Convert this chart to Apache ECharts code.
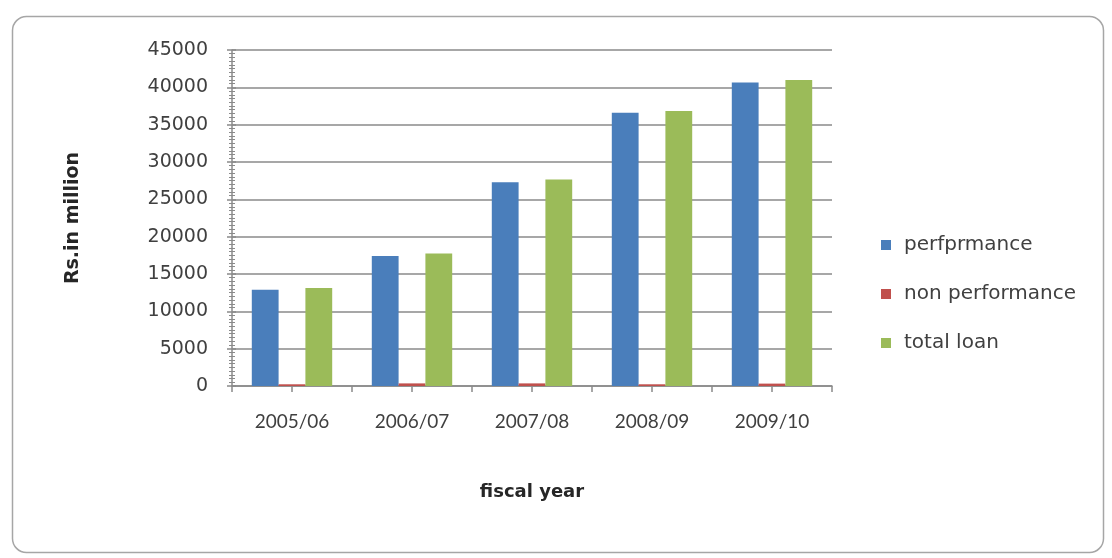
<!DOCTYPE html>
<html>
<head>
<meta charset="utf-8">
<title>Loan performance by fiscal year</title>
<script src="https://cdn.jsdelivr.net/npm/echarts@6/dist/echarts.min.js"></script>
<style>
  html, body { margin: 0; padding: 0; background: #ffffff; }
  #chart { width: 1112px; height: 558px; }
</style>
</head>
<body>
<div id="chart"></div>
<script>
// Fiscal years on the category axis
const fiscalYears = ['2005/06', '2006/07', '2007/08', '2008/09', '2009/10'];

// Loan amounts, Rs. in million
const performing = [12900, 17400, 27300, 36600, 40650];
const nonPerforming = [230, 350, 350, 230, 320];
const totalLoan = [13130, 17750, 27650, 36830, 40970];

// Value axis range
const yMin = 0;
const yMax = 45000;
const yStep = 5000;

const seriesNames = ['perfprmance', 'non performance', 'total loan'];
const seriesColors = ['#4a7ebb', '#c0504d', '#9bbb59'];

const axisGrey = '#8a8a8a';
const labelFont = 'Lato';
const wideFont = 'DejaVu Sans';

const chart = echarts.init(document.getElementById('chart'), null, { renderer: 'canvas' });

chart.setOption({
  backgroundColor: '#ffffff',
  animation: false,
  graphic: [{
    type: 'rect',
    shape: { x: 12.5, y: 16.5, width: 1091, height: 536, r: 14 },
    style: { fill: 'none', stroke: '#a6a6a6', lineWidth: 1.5 },
    silent: true,
    z: -10
  }],
  grid: { left: 232, top: 50, width: 600, height: 336, containLabel: false },
  legend: {
    orient: 'vertical',
    left: 881,
    top: 235,
    padding: 0,
    itemWidth: 10,
    itemHeight: 10,
    itemGap: 29,
    icon: 'rect',
    data: seriesNames,
    textStyle: { fontFamily: wideFont, fontSize: 20, lineHeight: 18, color: '#404040', padding: [0, 0, 0, 8] }
  },
  xAxis: [{
    type: 'category',
    data: fiscalYears,
    position: 'bottom',
    name: 'fiscal year',
    nameLocation: 'middle',
    nameGap: 97,
    nameTextStyle: { fontFamily: wideFont, fontWeight: 'bold', fontSize: 18, color: '#262626' },
    axisLine: { lineStyle: { color: axisGrey, width: 1.5 } },
    axisTick: { show: true, length: 6, lineStyle: { color: axisGrey, width: 1.5 } },
    axisLabel: { margin: 26, fontFamily: labelFont, fontSize: 19, color: '#404040' }
  }, {
    // ticks at each category centre
    type: 'category',
    data: fiscalYears,
    position: 'bottom',
    axisLine: { show: false },
    axisTick: { show: true, alignWithLabel: true, length: 6, lineStyle: { color: axisGrey, width: 1.5 } },
    axisLabel: { show: false }
  }],
  yAxis: [{
    type: 'value',
    min: yMin,
    max: yMax,
    interval: yStep,
    name: 'Rs.in million',
    nameLocation: 'middle',
    nameRotate: 90,
    nameGap: 149,
    nameTextStyle: { fontFamily: wideFont, fontWeight: 'bold', fontSize: 19, color: '#262626' },
    axisLine: { show: true, lineStyle: { color: axisGrey, width: 1.5 } },
    axisTick: { show: true, length: 5, lineStyle: { color: axisGrey, width: 1.5 } },
    minorTick: { show: true, splitNumber: 10, length: 3, lineStyle: { color: axisGrey, width: 1 } },
    splitLine: { show: true, lineStyle: { color: axisGrey, width: 1.5 } },
    axisLabel: {
      margin: 24,
      fontFamily: wideFont,
      fontSize: 19,
      color: '#404040',
      formatter: (v) => String(v)
    }
  }, {
    // inward half of the crossing tick marks
    type: 'value',
    min: yMin,
    max: yMax,
    interval: yStep,
    position: 'left',
    offset: 0,
    axisLine: { show: false },
    axisTick: { show: true, inside: true, length: 4, lineStyle: { color: axisGrey, width: 1.5 } },
    minorTick: { show: true, splitNumber: 10, length: 3, lineStyle: { color: axisGrey, width: 1 } },
    splitLine: { show: false },
    axisLabel: { show: false }
  }],
  series: [
    { name: seriesNames[0], type: 'bar', data: performing, itemStyle: { color: seriesColors[0] }, barGap: '0%', barCategoryGap: '33%' },
    { name: seriesNames[1], type: 'bar', data: nonPerforming, itemStyle: { color: seriesColors[1] }, barGap: '0%', barCategoryGap: '33%' },
    { name: seriesNames[2], type: 'bar', data: totalLoan, itemStyle: { color: seriesColors[2] }, barGap: '0%', barCategoryGap: '33%' }
  ]
});
</script>
</body>
</html>
